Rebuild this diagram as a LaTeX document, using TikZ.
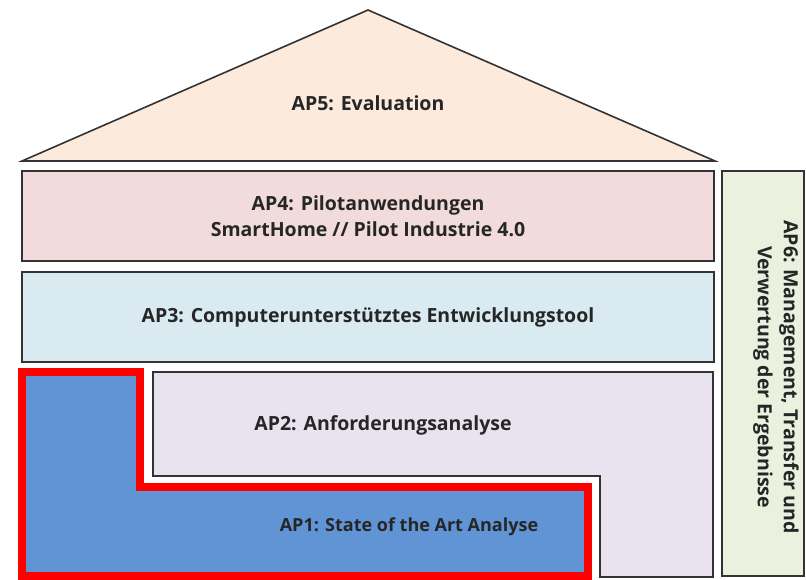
\documentclass[tikz,border=0pt]{standalone}
\usepackage{fontspec}
\setmainfont{Open Sans}
\begin{document}
\begin{tikzpicture}[x=1pt,y=-1pt,
  boxline/.style={draw=black!80,line width=1.6pt},
  lbl/.style={font=\fontsize{19.5}{26}\selectfont\bfseries,align=center,text=black!85},
  wpbox/.style={boxline,rectangle,inner sep=0pt,lbl}]
\definecolor{roofc}{HTML}{FCEADC}
\definecolor{apfour}{HTML}{F2DCDB}
\definecolor{apthree}{HTML}{D9EAF1}
\definecolor{aptwo}{HTML}{E8E3EF}
\definecolor{apone}{HTML}{6094D4}
\definecolor{apsix}{HTML}{EBF1DF}
\definecolor{redc}{HTML}{FF0000}
\useasboundingbox (0,0) rectangle (806,580);
% roof
\coordinate (rl) at (22,161);
\coordinate (rr) at (715,161);
\coordinate (rt) at (368,10);
\draw[boxline,fill=roofc,line join=miter] (rl) -- (rt) -- (rr) -- cycle;
\node[lbl] (ap5) at (368,103) {AP5: Evaluation};
% AP4
\node[wpbox,fill=apfour,minimum width=692pt,minimum height=90pt] (ap4) at (368,216)
  {AP4: Pilotanwendungen\\ SmartHome // Pilot Industrie 4.0};
% AP3
\node[wpbox,fill=apthree,minimum width=692pt,minimum height=90pt] (ap3) at (368,317)
  {AP3: Computerunterstütztes Entwicklungstool};
% AP6
\node[boxline,fill=apsix,minimum width=82pt,minimum height=405pt,inner sep=0pt] (ap6box) at (763,373.5) {};
\node[lbl,rotate=-90] (ap6) at (776,377) {AP6: Management, Transfer und\\ Verwertung der Ergebnisse};
% AP2 L-shape
\draw[boxline,fill=aptwo] (153,372) -- (713,372) -- (713,577) -- (600,577) -- (600,476) -- (153,476) -- cycle;
\node[lbl] (ap2) at (383,425) {AP2: Anforderungsanalyse};
% AP1 L-shape
\draw[draw=redc,line width=8pt,fill=apone] (22,372) -- (140,372) -- (140,487) -- (588,487) -- (588,576) -- (22,576) -- cycle;
\node[lbl,font=\fontsize{18}{22}\selectfont\bfseries] (ap1) at (409,527) {AP1: State of the Art Analyse};
\end{tikzpicture}
\end{document}
